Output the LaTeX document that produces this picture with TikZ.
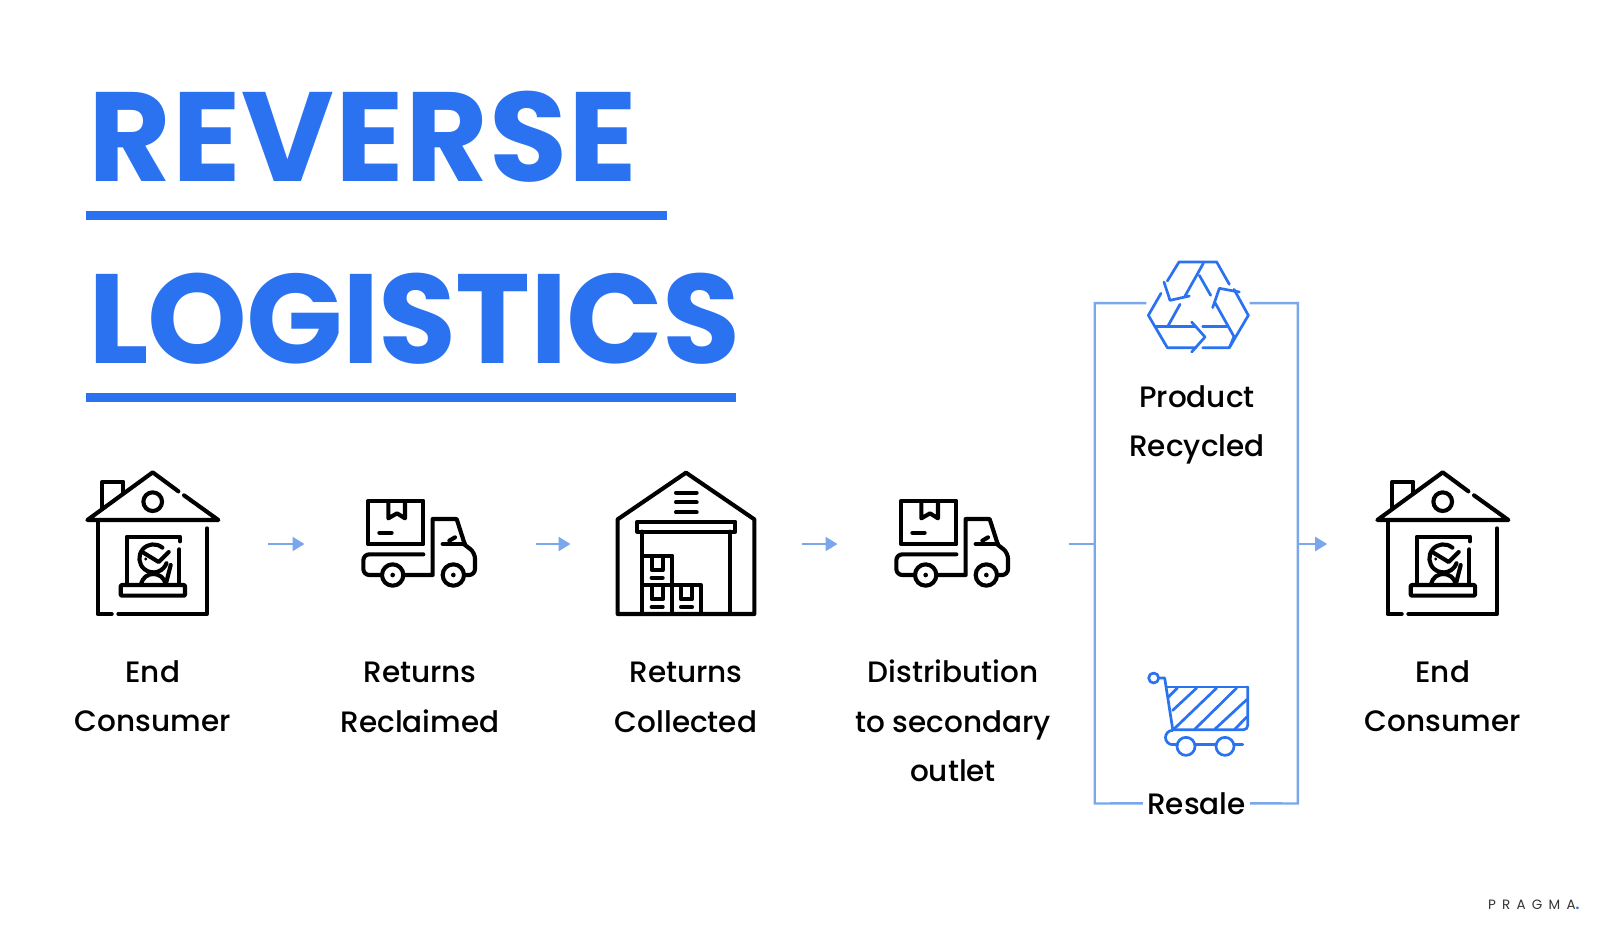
\documentclass[tikz,border=0pt]{standalone}
\usepackage{fontspec}
\setmainfont{Poppins}
\newfontfamily\labelfont{Poppins Medium}
\newfontfamily\logofont[LetterSpace=46]{Poppins}
\usetikzlibrary{arrows.meta}
\definecolor{titleblue}{HTML}{2A72F0}
\definecolor{flowblue}{HTML}{7AA7EC}
\tikzset{>={Stealth[length=12pt,width=14pt,inset=0pt]}}
\tikzset{
  iconbox/.style={minimum width=230.6pt,minimum height=20pt,inner sep=0pt},
  steplabel/.style={anchor=north,align=center,inner sep=0pt,font=\labelfont\fontsize{29.5}{49.5}\selectfont},
  titletext/.style={anchor=base west,inner sep=0pt,text=titleblue,font=\fontsize{127}{127}\selectfont\bfseries},
  titlerule/.style={titleblue,line width=9pt},
  flow/.style={flowblue,line width=2.4pt},
  ink/.style={line width=4.1pt,line cap=round,line join=round},
  thinink/.style={titleblue,line width=2.7pt,line cap=round,line join=round},
  homeicon/.pic={
    \begin{scope}[scale=1/3,shift={(-278,-282)},ink]
    \draw (127,172)--(127,95)--(190,95)--(190,130);
    \draw (355,124)--(278,67)--(82,210)--(475,210)--(372,136);
    \draw (278,155) circle (28);
    \draw (113,215)--(113,492)--(155,492);
    \draw (175,492)--(441,492)--(441,235);
    \draw (200,402)--(200,260)--(360,260)--(360,274);
    \draw (358,298)--(358,402);
    \draw[rounded corners=1pt] (182,405) rectangle (375,437);
    \draw (307,293) arc (-50:-340:42);
    \draw (250,308)--(296,336)--(326,306);
    \draw (243,402) .. controls (252,362) and (308,362) .. (317,402);
    \draw (332,345)--(318,400);
    \fill (257,327) circle (5);
    \end{scope}
  },
  truckicon/.pic={
    \begin{scope}[scale=1/3,shift={(-1080,-282)},ink]
    \draw (925,152) rectangle (1090,283);
    \draw (985,157)--(985,205)--(1011,190)--(1035,205)--(1035,157);
    \draw (958,248)--(995,248);
    \draw[rounded corners=6pt] (1090,313)--(910,313)--(910,375)--(965,375);
    \draw (1033,375)--(1118,375)--(1118,207)--(1190,207)--(1215,285);
    \draw[rounded corners=6pt] (1215,285)--(1245,308)--(1245,375)--(1216,375);
    \draw (1148,282)--(1215,282);
    \draw (1168,272)--(1185,262);
    \draw (998,375) circle (32);
    \draw (1180,375) circle (32);
    \fill (998,375) circle (7);
    \fill (1180,375) circle (7);
    \end{scope}
  },
  depoticon/.pic={
    \begin{scope}[scale=1/3,shift={(-288,-282)},ink]
    \draw (83,492)--(83,208)--(288,68)--(493,208)--(493,492)--cycle;
    \foreach \yy in {128,157,187} \draw (258,\yy)--(320,\yy);
    \draw (142,215) rectangle (436,245);
    \draw (157,245)--(157,492);
    \draw (420,245)--(420,492);
    \draw (157,317)--(247,317)--(247,492);
    \draw (157,405)--(333,405)--(333,492);
    \foreach \xx/\yy in {0/0,0/88,88/88} {
      \draw (185+\xx,325+\yy)--(185+\xx,360+\yy)--(218+\xx,360+\yy)--(218+\xx,325+\yy);
      \draw (185+\xx,383+\yy)--(218+\xx,383+\yy);
    }
    \end{scope}
  },
  recycleicon/.pic={
    \begin{scope}[scale=1/3,shift={(-414,-200)},thinink]
    \draw (508,135)--(470,68)--(357,68)--(322,125);
    \draw (312,128)--(330,183)--(388,170);
    \draw (430,72)--(375,170);
    \draw (418,108)--(452,168);
    \draw (303,162)--(265,228)--(322,325)--(408,325);
    \draw (395,248)--(435,293)--(395,338);
    \draw (285,262)--(408,262);
    \draw (360,195)--(325,258);
    \draw (428,262)--(500,262);
    \draw (428,325)--(508,325)--(565,228)--(522,150);
    \draw (538,158)--(478,147)--(458,205);
    \draw (465,190)--(522,292)--(508,325);
    \end{scope}
  },
  carticon/.pic={
    \begin{scope}[scale=1/3,shift={(-414,-220)},thinink]
    \draw (281,115) circle (15);
    \draw (296,115)--(314,115)--(338,268);
    \draw (318,142)--(563,142);
    \draw[rounded corners=4pt] (563,142)--(563,270)--(338,270);
    \draw (325,172)--(352,145);
    \draw (338,212)--(410,145);
    \draw (345,265)--(470,145);
    \draw (405,268)--(530,145);
    \draw (465,268)--(560,180);
    \draw (525,268)--(560,232);
    \draw (338,272) arc (-90:-270:21.5);
    \draw (338,315)--(352,315);
    \draw (405,315)--(468,315);
    \draw (522,315)--(548,315);
    \draw (378,320) circle (27);
    \draw (495,320) circle (27);
    \end{scope}
  }
}

\begin{document}
\begin{tikzpicture}[x=1pt,y=-1pt]
\useasboundingbox (0,0) rectangle (1600,927);
\node[titletext] (title1) at (88,181.7) {\addfontfeature{LetterSpace=0.8}REVERSE};
\node[titletext] (title2) at (88,363) {\addfontfeature{LetterSpace=-0.8}LOGISTICS};
\draw[titlerule] (85.7,215.5) -- (667,215.5);
\draw[titlerule] (85.7,397.5) -- (735.7,397.5);
\node[iconbox] (home1) at (152.7,544) {};
\node[iconbox] (truck1) at (420,544) {};
\node[iconbox] (depot) at (686,544) {};
\node[iconbox] (truck2) at (953,544) {};
\node[iconbox] (home2) at (1442.7,544) {};
\pic at (home1) {homeicon};
\pic at (truck1) {truckicon};
\pic at (depot) {depoticon};
\pic at (truck2) {truckicon};
\pic at (home2) {homeicon};
\node[steplabel] (lab1) at (152.7,660) {End\\Consumer};
\node[steplabel] (lab2) at (420,662) {Returns\\Reclaimed};
\node[steplabel] (lab3) at (686,662) {Returns\\Collected};
\node[steplabel] (lab4) at (953,660) {Distribution\\to secondary\\outlet};
\node[steplabel] (lab5) at (1442.7,660) {End\\Consumer};
\node[minimum width=202.7pt,minimum height=500pt,inner sep=0pt] (outlet) at (1196.3,553.3) {};
\node[minimum width=103pt,minimum height=20pt,inner sep=0pt] (recycled) at (1198,306) {};
\pic at (recycled) {recycleicon};
\node[steplabel] (lab6) at (1197,385) {Product\\Recycled};
\node[inner sep=0pt] (cart) at (1198,713) {};
\pic at (cart) {carticon};
\node[inner sep=0pt,minimum width=107pt,font=\labelfont\fontsize{29.5}{49.5}\selectfont] (resale) at (1196.5,803.3) {Resale};
\draw[flow] (recycled.west |- outlet.north) -- (outlet.north west) -- (outlet.south west) -- (resale.west);
\draw[flow] (recycled.east |- outlet.north) -- (outlet.north east) -- (outlet.south east) -- (resale.east);
\draw[flow,->] (home1) -- (truck1);
\draw[flow,->] (truck1) -- (depot);
\draw[flow,->] (depot) -- (truck2);
\draw[flow] (truck2) -- (outlet.west |- truck2);
\draw[flow,->] (outlet.east |- home2) -- (home2);
\node[anchor=base west,inner sep=0pt,text=black!80,font=\logofont\fontsize{13.5}{13.5}\selectfont] (brand) at (1488,909.5) {PRAGMA\textcolor{titleblue}{\textbf{.}}};
\end{tikzpicture}
\end{document}
